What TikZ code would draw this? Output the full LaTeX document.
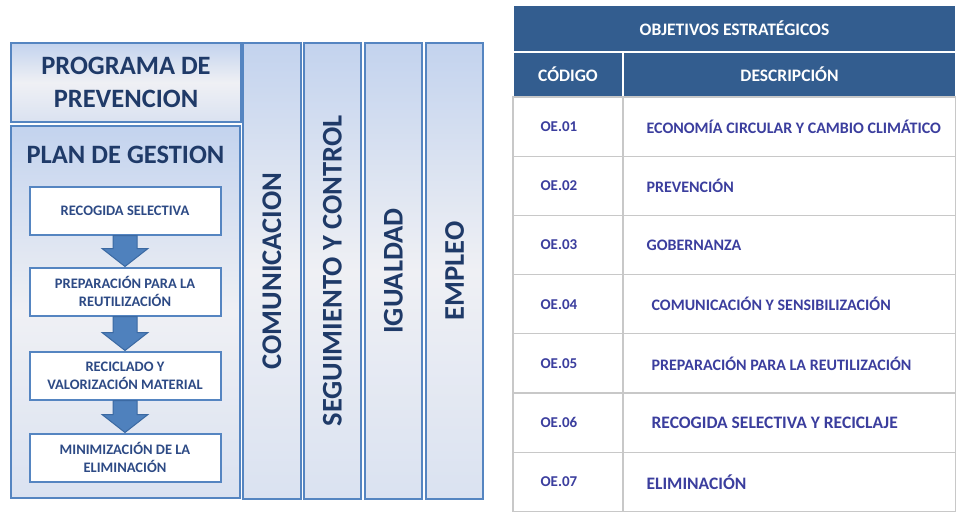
\documentclass[tikz,border=0pt]{standalone}
\usepackage{fontspec}
\setmainfont{Carlito}
\usepackage{graphicx}
\usetikzlibrary{calc}
\definecolor{edge}{HTML}{5585C1}
\definecolor{topblue}{HTML}{C3D3EE}
\definecolor{midgray}{HTML}{EFF0F4}
\definecolor{botblue}{HTML}{DAE2F1}
\definecolor{navy}{HTML}{1F3A68}
\definecolor{boxtext}{HTML}{2D4A85}
\definecolor{arrowfill}{HTML}{4F81BD}
\definecolor{arrowdraw}{HTML}{3B69A2}
\definecolor{hdr}{HTML}{335D8F}
\definecolor{grid}{HTML}{C8C8C8}
\definecolor{tabtext}{HTML}{3B3E9E}
\tikzset{panel/.style={draw=edge,line width=2.4pt,top color=topblue,bottom color=botblue,middle color=midgray,text=navy,align=center,font=\fontsize{26.5}{33}\selectfont\bfseries}}
\tikzset{column/.style={panel,minimum width=57pt,minimum height=456pt,font=\fontsize{28.5}{33}\selectfont\bfseries}}
\tikzset{stage/.style={draw=edge,line width=2pt,fill=white,text=boxtext,align=center,minimum width=191pt,minimum height=48pt,font=\fontsize{14.5}{18}\selectfont\bfseries}}
\tikzset{bigarrow/.style={fill=arrowfill,draw=arrowdraw,line width=1pt,line join=miter}}
\tikzset{hdrcell/.style={fill=hdr,draw=white,line width=1.5pt,text=white,font=\fontsize{17.5}{20}\selectfont\bfseries}}
\tikzset{cell/.style={draw=grid,line width=1.2pt,minimum height=59.2pt}}
\tikzset{celltext/.style={text=tabtext,anchor=west,inner sep=0pt,font=\bfseries}}

\begin{document}
\begin{tikzpicture}[x=1pt,y=-1pt]
    \fill[white] (0,0) rectangle (956,514);
    \useasboundingbox (0,0) rectangle (956,514);

    % left block
    \node[panel,minimum width=230pt,minimum height=79pt] (prog) at (126,82.5)
    {PROGRAMA DE\\PREVENCION};

    \node[panel,minimum width=229pt,minimum height=372pt] (plan) at (125.5,312) {};
    \node[text=navy,font=\fontsize{26.5}{30}\selectfont\bfseries] (plantitle) at (125.5,155) {PLAN DE GESTION};

    \node[stage] (rec) at (125,210.5) {RECOGIDA SELECTIVA};
    \node[stage] (prep) at (125,291.5) {PREPARACIÓN PARA LA\\REUTILIZACIÓN};
    \node[stage] (recic) at (125,375.5) {RECICLADO Y\\VALORIZACIÓN MATERIAL};
    \node[stage] (mini) at (125,457.5) {MINIMIZACIÓN DE LA\\ELIMINACIÓN};

    \foreach \a/\b in {rec/prep,prep/recic,recic/mini}
      \draw[bigarrow] ($(\a.south)+(-12,0)$) -- ($(\b.north)+(-12,-18)$)
        -- ($(\b.north)+(-23,-18)$) -- (\b.north) -- ($(\b.north)+(23,-18)$)
        -- ($(\b.north)+(12,-18)$) -- ($(\a.south)+(12,0)$) -- cycle;

    % columns
    \node[column,minimum width=58pt] (com) at (272,271) {\rotatebox{90}{COMUNICACION}};
    \node[column] (seg) at (332.5,271) {\rotatebox{90}{SEGUIMIENTO Y CONTROL}};
    \node[column] (igu) at (393.5,271) {\rotatebox{90}{IGUALDAD}};
    \node[column] (emp) at (454.5,271) {\rotatebox{90}{EMPLEO}};

    % table
    \node[hdrcell,minimum width=443pt,minimum height=46pt] (obj) at (734.5,28.5)
    {OBJETIVOS ESTRATÉGICOS};
    \node[hdrcell,minimum width=110pt,minimum height=45pt] (codhdr) at (568,74.5) {CÓDIGO};
    \node[hdrcell,minimum width=333pt,minimum height=45pt] (deshdr) at (789.5,74.5) {DESCRIPCIÓN};

    \foreach \i/\dx/\sz/\txt in {1/24/16/{ECONOMÍA CIRCULAR Y CAMBIO CLIMÁTICO},2/24/16/PREVENCIÓN,
      3/24/16/GOBERNANZA,4/29/16/{COMUNICACIÓN Y SENSIBILIZACIÓN},
      5/29/16/{PREPARACIÓN PARA LA REUTILIZACIÓN},6/29/17.5/{RECOGIDA SELECTIVA Y RECICLAJE},
      7/24/17.5/ELIMINACIÓN}{
      \node[cell,minimum width=110pt] (cod\i) at (568,{97+59.2*(\i-0.5)}) {};
      \node[cell,minimum width=333pt] (des\i) at (789.5,{97+59.2*(\i-0.5)}) {};
      \node[celltext,font=\fontsize{15}{18}\selectfont\bfseries] (codtxt\i) at ($(cod\i.west)+(28,0)$) {OE.0\i};
      \node[celltext,font=\fontsize{\sz}{20}\selectfont\bfseries] (destxt\i) at ($(des\i.west)+(\dx,0)$) {\txt};
    }

  \end{tikzpicture}
\end{document}
